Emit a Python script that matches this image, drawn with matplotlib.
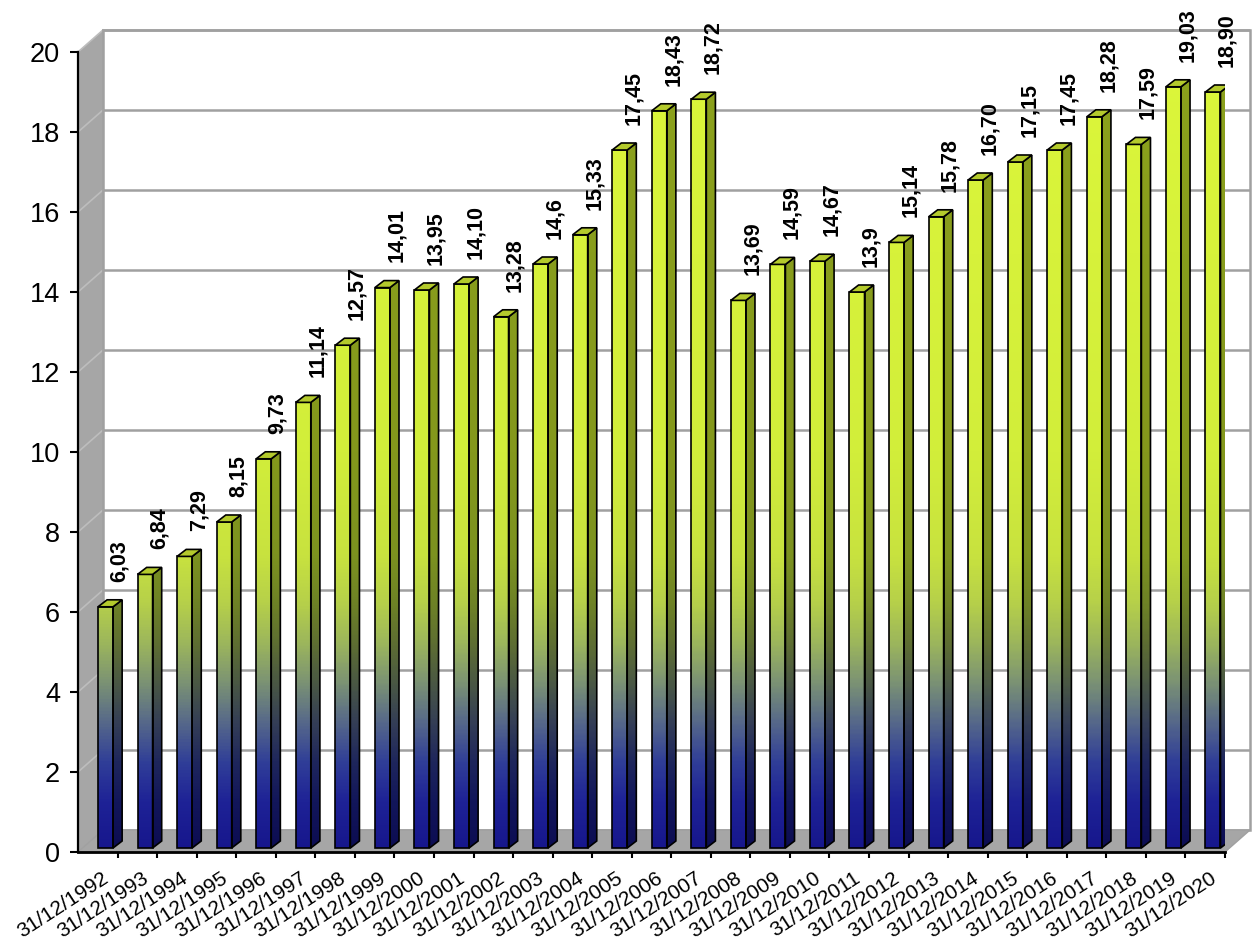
import numpy as np
import matplotlib
matplotlib.use("Agg")
import matplotlib.pyplot as plt
from matplotlib.colors import LinearSegmentedColormap, Normalize
from matplotlib.patches import Polygon
from matplotlib import transforms

plt.rcParams["font.family"] = ["Liberation Sans", "DejaVu Sans"]

dates = ["31/12/1992", "31/12/1993", "31/12/1994", "31/12/1995", "31/12/1996",
         "31/12/1997", "31/12/1998", "31/12/1999", "31/12/2000", "31/12/2001",
         "31/12/2002", "31/12/2003", "31/12/2004", "31/12/2005", "31/12/2006",
         "31/12/2007", "31/12/2008", "31/12/2009", "31/12/2010", "31/12/2011",
         "31/12/2012", "31/12/2013", "31/12/2014", "31/12/2015", "31/12/2016",
         "31/12/2017", "31/12/2018", "31/12/2019", "31/12/2020"]
values = [6.03, 6.84, 7.29, 8.15, 9.73, 11.14, 12.57, 14.01, 13.95, 14.10,
          13.28, 14.6, 15.33, 17.45, 18.43, 18.72, 13.69, 14.59, 14.67, 13.9,
          15.14, 15.78, 16.70, 17.15, 17.45, 18.28, 17.59, 19.03, 18.90]
value_labels = ["6,03", "6,84", "7,29", "8,15", "9,73", "11,14", "12,57", "14,01",
                "13,95", "14,10", "13,28", "14,6", "15,33", "17,45", "18,43", "18,72",
                "13,69", "14,59", "14,67", "13,9", "15,14", "15,78", "16,70", "17,15",
                "17,45", "18,28", "17,59", "19,03", "18,90"]
y_ticks = [0, 2, 4, 6, 8, 10, 12, 14, 16, 18, 20]

n = len(values)
ymax = 20

W, H = 1255, 949
fig = plt.figure(figsize=(W / 100, H / 100), dpi=100)
ax = fig.add_axes([78 / W, 1 - 852 / H, (1225 - 78) / W, 800 / H])
ax.set_xlim(0, n)
ax.set_ylim(0, ymax)

# 3D geometry (in data units)
DX, DY = 0.632, 0.55          # wall depth
FL, BW = 0.506, 0.38          # bar front offset / width within category
BDX, BDY = 0.23, 0.175        # bar depth
FB = 0.1                      # bar front baseline shift

wall_gray = "#a6a6a6"
grid_gray = "#a0a0a0"

# back wall
back = Polygon([(DX, DY), (n + DX, DY), (n + DX, ymax + DY), (DX, ymax + DY)],
               closed=True, facecolor="white", edgecolor=grid_gray, lw=1.8,
               zorder=0, clip_on=False)
ax.add_patch(back)
# left wall
ax.add_patch(Polygon([(0, 0), (DX, DY), (DX, ymax + DY), (0, ymax)], closed=True,
                     facecolor=wall_gray, edgecolor="none", zorder=0.5, clip_on=False))
# floor
ax.add_patch(Polygon([(0, 0), (n, 0), (n + DX, DY), (DX, DY)], closed=True,
                     facecolor=wall_gray, edgecolor=grid_gray, lw=1.0, zorder=0.5,
                     clip_on=False))
# gridlines
for v in y_ticks[1:]:
    ax.plot([DX, n + DX], [v + DY, v + DY], color=grid_gray, lw=1.8, zorder=0.8,
            clip_on=False, solid_capstyle="butt")
    ax.plot([0, DX], [v, v + DY], color="#bdbdbd", lw=1.2, zorder=0.9, clip_on=False)
ax.plot([DX, DX], [DY, ymax + DY], color=grid_gray, lw=1.2, zorder=0.9, clip_on=False)

front_cmap = LinearSegmentedColormap.from_list("front", [
    (0.0, "#16168c"), (0.06, "#1e2296"), (0.11, "#303e98"), (0.16, "#56688a"),
    (0.21, "#7b9274"), (0.26, "#9cb65c"), (0.31, "#b6d04a"), (0.37, "#c8e23f"),
    (0.50, "#d2ee3a"), (1.0, "#dcf63a")])
side_cmap = LinearSegmentedColormap.from_list("side", [
    (0.0, "#0c0c52"), (0.06, "#12165a"), (0.11, "#1e265c"), (0.16, "#343e56"),
    (0.21, "#4a5844"), (0.26, "#5e6e32"), (0.31, "#6e8226"), (0.37, "#7c9220"),
    (0.50, "#84981c"), (1.0, "#8ca21c")])
norm = Normalize(0, ymax)
top_color = "#b4ca2c"

for i, v in enumerate(values):
    x0 = i + FL
    x1 = x0 + BW
    y0 = FB
    y1 = FB + v
    grad = np.linspace(y0, y1, 300)[:, None]
    # front face
    ax.imshow(grad, cmap=front_cmap, norm=norm, extent=[x0, x1, y0, y1],
              origin="lower", aspect="auto", zorder=3, interpolation="bilinear")
    ax.add_patch(Polygon([(x0, y0), (x1, y0), (x1, y1), (x0, y1)], closed=True,
                         facecolor="none", edgecolor="black", lw=1.2, zorder=3.3))
    # side face
    side = Polygon([(x1, y0), (x1 + BDX, y0 + BDY), (x1 + BDX, y1 + BDY), (x1, y1)],
                   closed=True, facecolor="none", edgecolor="black", lw=1.2, zorder=3.3)
    ax.add_patch(side)
    gs = np.linspace(y0, y1 + BDY, 300)[:, None]
    im = ax.imshow(gs, cmap=side_cmap, norm=norm, extent=[x1, x1 + BDX, y0, y1 + BDY],
                   origin="lower", aspect="auto", zorder=3.1, interpolation="bilinear")
    im.set_clip_path(side)
    # top face
    ax.add_patch(Polygon([(x0, y1), (x1, y1), (x1 + BDX, y1 + BDY), (x0 + BDX, y1 + BDY)],
                         closed=True, facecolor=top_color, edgecolor="black", lw=1.2,
                         zorder=3.4))
    # value label
    ax.annotate(value_labels[i], xy=(i + 0.5 + 0.55, v), xytext=(0, 21),
                textcoords="offset points", rotation=90, ha="center", va="bottom",
                fontsize=15.5, fontweight="bold", color="black", zorder=5,
                annotation_clip=False)

ax.set_xlim(0, n)
ax.set_ylim(0, ymax)

for s in ["top", "right"]:
    ax.spines[s].set_visible(False)
ax.spines["left"].set_color("black")
ax.spines["left"].set_linewidth(1.6)
ax.spines["bottom"].set_color("black")
ax.spines["bottom"].set_linewidth(2.0)
ax.spines["left"].set_zorder(6)
ax.spines["bottom"].set_zorder(6)

ax.set_yticks(y_ticks)
ax.set_yticklabels([str(t) for t in y_ticks])
ax.tick_params(axis="y", direction="out", length=5.8, width=1.5, labelsize=19.5,
               pad=7, colors="black")

ax.set_xticks(np.arange(n) + 0.5)
ax.set_xticklabels(dates, rotation=33, ha="right", va="top", rotation_mode="anchor",
                   fontsize=15)
ax.set_xticks(np.arange(1, n + 1), minor=True)
ax.tick_params(axis="x", which="major", length=0, pad=12)
ax.tick_params(axis="x", which="minor", direction="out", length=4.5, width=1.5)
offset = transforms.ScaledTranslation(4 / 100, 0, fig.dpi_scale_trans)
for lab in ax.get_xticklabels():
    lab.set_transform(lab.get_transform() + offset)

fig.savefig("out.png", dpi=100, facecolor="white")
